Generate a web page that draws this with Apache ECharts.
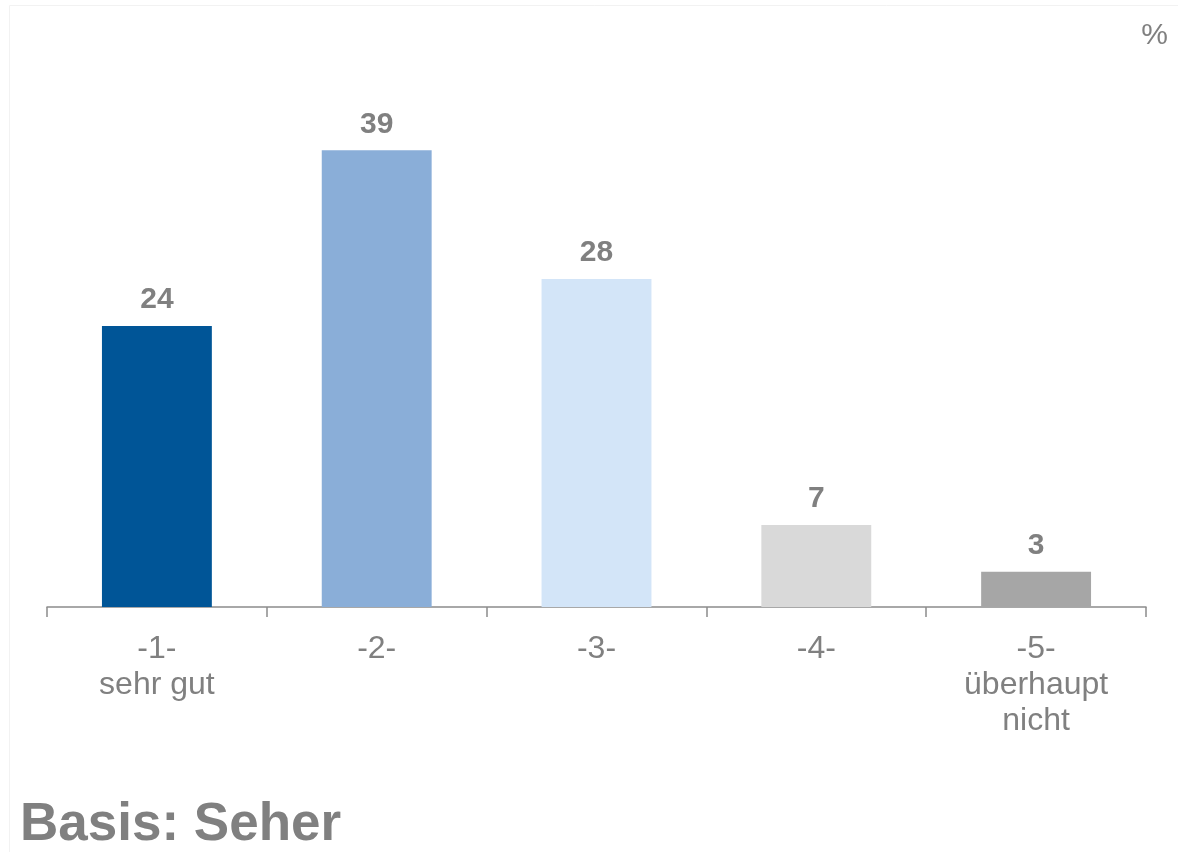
<!DOCTYPE html>
<html>
<head>
<meta charset="utf-8">
<script src="https://cdn.jsdelivr.net/npm/echarts@6/dist/echarts.min.js"></script>
<style>
html,body{margin:0;padding:0;background:#fff;}
#chart{width:1178px;height:852px;}
</style>
</head>
<body>
<div id="chart"></div>
<script>
const categories = ['-1-\nsehr gut', '-2-', '-3-', '-4-', '-5-\nüberhaupt\nnicht'];
const values = [24, 39, 28, 7, 3];
const barColors = ['#005597', '#8AAED8', '#D3E5F8', '#D9D9D9', '#A6A6A6'];
const unitLabel = '%';
const baseNote = 'Basis: Seher';

const FONT = '"Liberation Sans", Arial, sans-serif';
const GRAY = '#808080';

const chart = echarts.init(document.getElementById('chart'));
chart.setOption({
  backgroundColor: '#ffffff',
  animation: false,
  grid: { left: 47, right: 32, top: 80, bottom: 245, containLabel: false },
  xAxis: {
    type: 'category',
    data: categories,
    boundaryGap: true,
    axisLine: { lineStyle: { color: '#8c8c8c', width: 1.5 } },
    axisTick: { show: true, length: 10, lineStyle: { color: '#8c8c8c', width: 1.5 } },
    axisLabel: { color: GRAY, fontFamily: FONT, fontSize: 32, lineHeight: 36, margin: 24, interval: 0 }
  },
  yAxis: {
    type: 'value', min: 0, max: 45,
    show: false, splitLine: { show: false }
  },
  series: [{
    type: 'bar',
    barWidth: '50%',
    data: values.map((v, i) => ({ value: v, itemStyle: { color: barColors[i] } })),
    label: {
      show: true, position: 'top', distance: 11,
      color: GRAY, fontFamily: FONT, fontWeight: 'bold', fontSize: 30
    }
  }],
  graphic: [
    { type: 'rect', silent: true, shape: { x: 9.5, y: 5.5, width: 1300, height: 1000 },
      style: { fill: 'none', stroke: '#f2f2f2', lineWidth: 1 } },
    { type: 'text', x: 1168, y: 36,
      style: { text: unitLabel, fill: GRAY, font: '30px ' + FONT, textAlign: 'right', textVerticalAlign: 'middle' } },
    { type: 'text', x: 20, y: 825,
      style: { text: baseNote, fill: GRAY, font: 'bold 53px ' + FONT, textAlign: 'left', textVerticalAlign: 'middle' } }
  ]
});
</script>
</body>
</html>
